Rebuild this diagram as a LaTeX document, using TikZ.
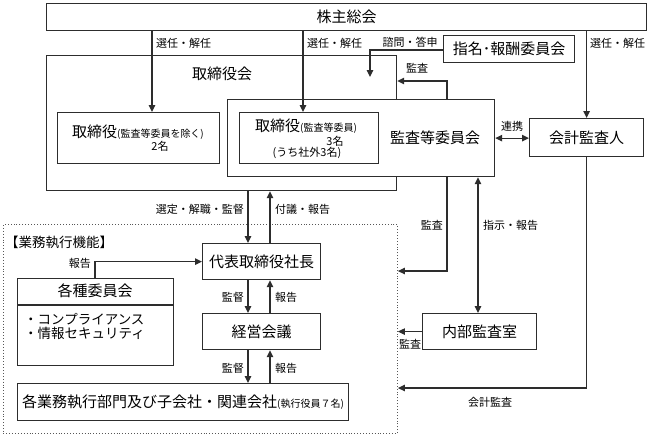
\documentclass[tikz,border=0pt]{standalone}
\usepackage{fontspec}
\setmainfont{Noto Sans CJK JP}
\usetikzlibrary{arrows.meta}
\newcommand\fa{\fontsize{15}{17}\selectfont}
\newcommand\fb{\fontsize{11}{12}\selectfont}
\newcommand\fc{\fontsize{10}{11}\selectfont}
\definecolor{lc}{RGB}{45,45,45}
\begin{document}
\begin{tikzpicture}[x=1pt,y=-1pt,
  box/.style={draw=lc,line width=1.2pt,inner sep=0pt,anchor=north west,font=\fa},
  dbox/.style={draw=lc!80,line width=0.9pt,dotted,inner sep=0pt,anchor=north west},
  lab/.style={font=\fb,inner sep=1pt},
  arr/.style={draw=lc,line width=1.2pt,-{Triangle[length=7pt,width=6.5pt]}},
  darr/.style={draw=lc,line width=1.2pt,{Triangle[length=7pt,width=6.5pt]}-{Triangle[length=7pt,width=6.5pt]}}]
\useasboundingbox (0,0) rectangle (648,437);
% boxes
\node[box,minimum width=600pt,minimum height=27pt] (sh) at (46,3) {株主総会};
\node[box,minimum width=350pt,minimum height=135pt] (big) at (46,55) {};
\node[font=\fa] (bigl) at (222,74) {取締役会};
\node[box,minimum width=131pt,minimum height=27pt] (nm) at (443,35) {指名･報酬委員会};
\node[box,fill=white,minimum width=267pt,minimum height=77pt] (ac) at (227,99) {};
\node[font=\fa] (acl) at (435,138) {監査等委員会};
\node[box,minimum width=162pt,minimum height=51pt] (ld) at (57,112) {};
\node[inner sep=0pt] (ldt) at (138,132) {\fa 取締役\fc(監査等委員を除く)};
\node[font=\fb,inner sep=0pt] (ldn) at (160,146) {2名};
\node[box,minimum width=139pt,minimum height=51pt] (id) at (239,112) {};
\node[inner sep=0pt] (idt) at (306,126) {\fa 取締役\fc(監査等委員)};
\node[font=\fb,inner sep=0pt] (idn) at (335,141) {3名};
\node[font=\fb,inner sep=0pt] (ido) at (307,153) {(うち社外3名)};
\node[box,minimum width=114pt,minimum height=38pt] (ca) at (529,118) {会計監査人};
% execution area
\node[dbox,minimum width=394pt,minimum height=209pt] (ex) at (3,224) {};
\node[font=\fontsize{13.5}{15}\selectfont,anchor=west,inner sep=0pt] (exl) at (5,242) {【業務執行機能】};
\node[box,minimum width=118pt,minimum height=36pt] (pres) at (202,243) {代表取締役社長};
\node[box,minimum width=156pt,minimum height=87pt] (cm) at (17,278) {};
\draw[draw=lc,line width=1.2pt] (cm.north west |- 0,305) -- (cm.north east |- 0,305);
\node[font=\fa] (cmt) at (95,291) {各種委員会};
\node[font=\fontsize{13.5}{15}\selectfont,anchor=west,inner sep=0pt] (cb1) at (24,319) {・コンプライアンス};
\node[font=\fontsize{13.5}{15}\selectfont,anchor=west,inner sep=0pt] (cb2) at (24,333) {・情報セキュリティ};
\node[box,minimum width=118pt,minimum height=36pt] (mtg) at (202,313) {経営会議};
\node[box,minimum width=331pt,minimum height=37pt] (biz) at (17,383) {各業務執行部門及び子会社・関連会社\fc(執行役員７名)};
\node[box,minimum width=114pt,minimum height=36pt] (ia) at (422,313) {内部監査室};
% connectors top
\draw[arr] (152,0 |- sh.south) -- (152,0 |- ld.north);
\node[lab,anchor=west] at (155,43) {選任・解任};
\draw[arr] (303,0 |- sh.south) -- (303,0 |- id.north);
\node[lab,anchor=west] at (306,43) {選任・解任};
\draw[arr] (ca.north |- sh.south) -- (ca.north);
\node[lab,anchor=west] at (589,43) {選任・解任};
\coordinate (qend) at (370,77);
\draw[arr] (nm.west |- 0,50) -| (qend);
\node[lab] at (410,42) {諮問・答申};
\draw[arr] (447,0 |- ac.north) |- (big.east |- 0,81);
\node[lab] at (417,68) {監査};
\draw[darr] (ac.east) -- (ca.west |- ac.east);
\node[lab] at (512,126) {連携};
% connectors middle
\draw[arr] (248,0 |- big.south) -- (248,0 |- pres.north);
\node[lab,anchor=east] at (245,209) {選定・解職・監督};
\draw[arr] (270,0 |- pres.north) -- (270,0 |- big.south);
\node[lab,anchor=west] at (274,209) {付議・報告};
\draw[arr] (95,0 |- cm.north) |- (pres.west);
\node[lab,anchor=east] at (92,263) {報告};
\draw[arr] (248,0 |- pres.south) -- (248,0 |- mtg.north);
\node[lab,anchor=east] at (245,297) {監督};
\draw[arr] (270,0 |- mtg.north) -- (270,0 |- pres.south);
\node[lab,anchor=west] at (274,297) {報告};
\draw[arr] (248,0 |- mtg.south) -- (248,0 |- biz.north);
\node[lab,anchor=east] at (245,368) {監督};
\draw[arr] (270,0 |- biz.north) -- (270,0 |- mtg.south);
\node[lab,anchor=west] at (274,368) {報告};
% right side
\draw[arr] (447,0 |- ac.south) |- (ex.east |- 0,271);
\node[lab,anchor=east] at (444,225) {監査};
\draw[darr] (478,0 |- ac.south) -- (478,0 |- ia.north);
\node[lab,anchor=west] at (482,225) {指示・報告};
\draw[arr] (ia.west) -- (ex.east |- ia.west);
\node[lab] at (410,344) {監査};
\draw[arr] (ca.south) |- (ex.east |- 0,388);
\node[lab] at (490,402) {会計監査};
\end{tikzpicture}
\end{document}
